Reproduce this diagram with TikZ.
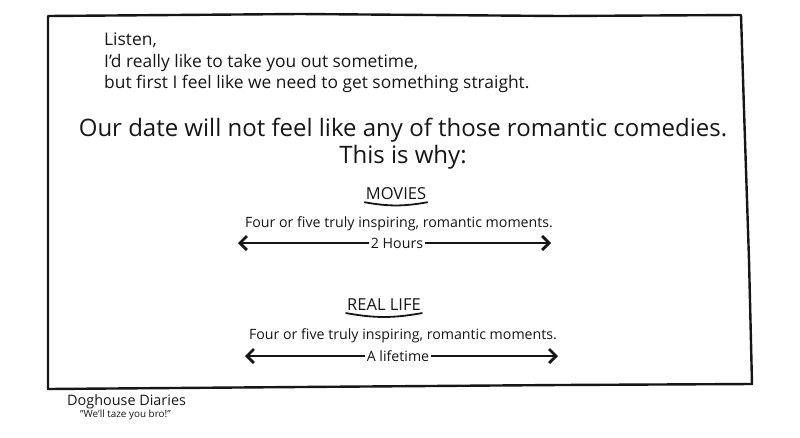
\documentclass[tikz,border=0pt]{standalone}
\usepackage{fontspec}
\setmainfont{Open Sans}
\usetikzlibrary{arrows.meta, positioning}
\definecolor{ink}{RGB}{22, 22, 22}
\tikzstyle{letter} = [anchor=north west, align=left, inner sep=0pt, text=ink, font=\fontsize{17.4}{21.5}\selectfont]
\tikzstyle{headline} = [align=center, inner sep=0pt, text=ink, font=\fontsize{24}{27}\selectfont]
\tikzstyle{heading} = [inner sep=1pt, text=ink, font=\fontsize{16.5}{18}\selectfont]
\tikzstyle{caption} = [inner sep=0pt, text=ink, font=\fontsize{14.2}{16}\selectfont]
\tikzstyle{span} = [fill=white, inner sep=2pt, text=ink, font=\fontsize{14.2}{16}\selectfont]
\tikzstyle{timeline} = [line width=2.8pt, draw=ink, {Straight Barb[length=7pt,width=14pt]}-{Straight Barb[length=7pt,width=14pt]}]
\tikzstyle{underline} = [line width=1.8pt, draw=ink, line cap=round]
\tikzstyle{frame} = [line width=2.4pt, draw=ink, line join=round]

\begin{document}
\begin{tikzpicture}[x=1pt, y=-1pt]
    \useasboundingbox (0,0) rectangle (800,437);

    % Panel border
    \draw[frame] (48,16) -- (300,14) -- (560,16) -- (741,15) -- (744,110) -- (749,260) -- (752,384)
        -- (560,385) -- (300,387) -- (48,389) -- cycle;

    % Opening lines
    \node[letter] (listen) at (104,33) {Listen,\\I'd really like to take you out sometime,\\but first I feel like we need to get something straight.};

    % Headline
    \node[headline] (why) at (403,144) {Our date will not feel like any of those romantic comedies.\\This is why:};

    % Movies
    \node[heading] (movies) at (396,194) {MOVIES};
    \draw[underline] ([yshift=-1pt]movies.south west) to[bend right=10] ([yshift=-1pt]movies.south east);
    \node[caption] (moments1) at (399,224) {Four or five truly inspiring, romantic moments.};
    \coordinate (movies-start) at (238,243);
    \coordinate (movies-end) at (551,243);
    \draw[timeline] (movies-start) -- (movies-end);
    \node[span] (hours) at (397,243) {2 Hours};

    % Real life
    \node[heading] (reallife) at (384,305) {REAL LIFE};
    \draw[underline] ([yshift=-1pt]reallife.south west) to[bend right=10] ([yshift=-1pt]reallife.south east);
    \node[caption] (moments2) at (403,336) {Four or five truly inspiring, romantic moments.};
    \coordinate (life-start) at (245,356);
    \coordinate (life-end) at (558,356);
    \draw[timeline] (life-start) -- (life-end);
    \node[span] (lifetime) at (398,356) {A lifetime};

    % Credits
    \node[anchor=west, inner sep=0pt, text=ink, font=\fontsize{14.4}{16}\selectfont] (brand) at (67,402) {Doghouse Diaries};
    \node[anchor=west, inner sep=0pt, text=ink, font=\fontsize{9.9}{10}\selectfont] (motto) at (80,415) {"We'll taze you bro!"};
\end{tikzpicture}
\end{document}
